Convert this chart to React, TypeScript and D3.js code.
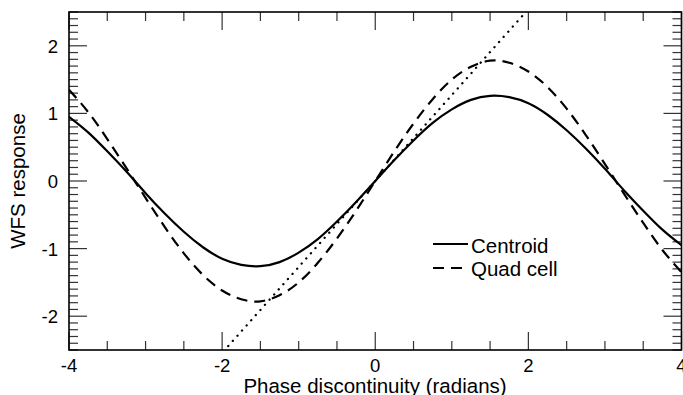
import React from "react";
import * as d3 from "d3";

const xs = [-4, -3.75, -3.5, -3.25, -3, -2.75, -2.5, -2.25, -2, -1.75, -1.5, -1.25, -1, -0.75, -0.5, -0.25, 0,
  0.25, 0.5, 0.75, 1, 1.25, 1.5, 1.75, 2, 2.25, 2.5, 2.75, 3, 3.25, 3.5, 3.75, 4];
const centroid = [0.95, 0.72, 0.44, 0.14, -0.18, -0.48, -0.75, -0.98, -1.15, -1.24, -1.26, -1.2, -1.06, -0.86, -0.6, -0.31, 0,
  0.31, 0.6, 0.86, 1.06, 1.2, 1.26, 1.24, 1.15, 0.98, 0.75, 0.48, 0.18, -0.14, -0.44, -0.72, -0.95];
const quadCell = [1.35, 1.02, 0.62, 0.19, -0.25, -0.68, -1.07, -1.39, -1.62, -1.75, -1.78, -1.69, -1.5, -1.21, -0.85, -0.44, 0,
  0.44, 0.85, 1.21, 1.5, 1.69, 1.78, 1.75, 1.62, 1.39, 1.07, 0.68, 0.25, -0.19, -0.62, -1.02, -1.35];
const linearX = [-2.1, 2.1];
const linearY = [-2.67, 2.67];

const xMajor = [-4, -2, 0, 2, 4];
const yMajor = [-2, -1, 0, 1, 2];
const legendLabels = ["Centroid", "Quad cell"];
const xTitle = "Phase discontinuity (radians)";
const yTitle = "WFS response";

export default function App() {
  const L = 69, R = 681.5, T = 12, B = 350;
  const x = d3.scaleLinear().domain([-4, 4]).range([L, R]);
  const y = d3.scaleLinear().domain([-2.5, 2.5]).range([B, T]);
  const line = d3.line<[number, number]>().x(d => x(d[0])).y(d => y(d[1])).curve(d3.curveNatural);
  const cPts = xs.map((v, i) => [v, centroid[i]] as [number, number]);
  const qPts = xs.map((v, i) => [v, quadCell[i]] as [number, number]);
  const lPts = linearX.map((v, i) => [v, linearY[i]] as [number, number]);
  const xMinor = d3.range(-4, 4.001, 0.5).filter(v => !xMajor.some(m => Math.abs(m - v) < 1e-6));
  const yMinor = d3.range(-25, 26).map(v => v / 10).filter(v => !yMajor.some(m => Math.abs(m - v) < 1e-6));
  const font = "'Liberation Sans', Arial, Helvetica, sans-serif";
  const tickColor = "#333";
  return (
    <svg width={683} height={395} style={{ position: "absolute", left: 0, top: 0 }} fontFamily={font}>
      <defs>
        <clipPath id="plot"><rect x={L} y={T} width={R - L} height={B - T} /></clipPath>
      </defs>
      <rect x={0} y={0} width={683} height={395} fill="#fff" />
      {/* ticks */}
      {xMinor.map(v => (
        <g key={"xm" + v} stroke={tickColor} strokeWidth={1.2}>
          <line x1={x(v)} x2={x(v)} y1={B} y2={B - 9} />
          <line x1={x(v)} x2={x(v)} y1={T} y2={T + 9} />
        </g>
      ))}
      {xMajor.map(v => (
        <g key={"xM" + v} stroke={tickColor} strokeWidth={1.2}>
          <line x1={x(v)} x2={x(v)} y1={B} y2={B - 18} />
          <line x1={x(v)} x2={x(v)} y1={T} y2={T + 18} />
        </g>
      ))}
      {yMinor.map(v => (
        <g key={"ym" + v} stroke={tickColor} strokeWidth={1.2}>
          <line x1={L} x2={L + 9} y1={y(v)} y2={y(v)} />
          <line x1={R} x2={R - 9} y1={y(v)} y2={y(v)} />
        </g>
      ))}
      {yMajor.map(v => (
        <g key={"yM" + v} stroke={tickColor} strokeWidth={1.2}>
          <line x1={L} x2={L + 18} y1={y(v)} y2={y(v)} />
          <line x1={R} x2={R - 18} y1={y(v)} y2={y(v)} />
        </g>
      ))}
      {/* frame */}
      <rect x={L} y={T} width={R - L} height={B - T} fill="none" stroke="#000" strokeWidth={1.6} />
      {/* curves */}
      <g clipPath="url(#plot)" fill="none" stroke="#000" strokeWidth={2.2}>
        <path d={line(cPts) || ""} />
        <path d={line(qPts) || ""} strokeDasharray="11 7" />
        <path d={d3.line<[number, number]>().x(d => x(d[0])).y(d => y(d[1]))(lPts) || ""} strokeDasharray="0.1 6.8" strokeLinecap="round" strokeWidth={2.3} />
      </g>
      {/* tick labels */}
      {xMajor.map(v => (
        <text key={"xl" + v} x={x(v)} y={372} textAnchor="middle" fontSize={18.5} fill="#000">{v}</text>
      ))}
      {yMajor.map(v => (
        <text key={"yl" + v} x={58} y={y(v) + 7} textAnchor="end" fontSize={18.5} fill="#000">{v}</text>
      ))}
      {/* titles */}
      <text x={375} y={393} textAnchor="middle" fontSize={20.5} fill="#000">{xTitle}</text>
      <text transform={`translate(25,${(T + B) / 2}) rotate(-90)`} textAnchor="middle" fontSize={20.5} fill="#000">{yTitle}</text>
      {/* legend */}
      <g stroke="#000" strokeWidth={2.2}>
        <line x1={433} x2={468} y1={244} y2={244} />
        <line x1={433} x2={468} y1={268} y2={268} strokeDasharray="11 7" />
      </g>
      <text x={471} y={252.5} fontSize={20.5} fill="#000">{legendLabels[0]}</text>
      <text x={471} y={276} fontSize={20.5} fill="#000">{legendLabels[1]}</text>
    </svg>
  );
}
